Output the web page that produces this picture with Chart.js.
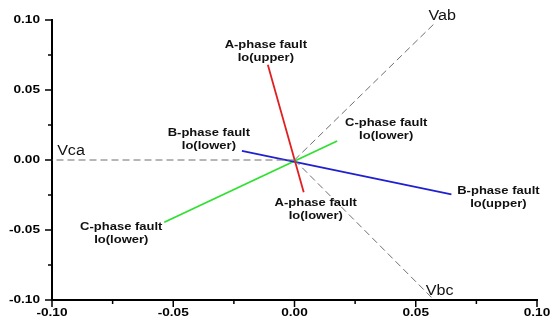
<!DOCTYPE html>
<html>
<head>
<meta charset="utf-8">
<script src="https://cdn.jsdelivr.net/npm/chart.js@4/dist/chart.umd.min.js"></script>
<style>
  html, body { margin: 0; padding: 0; background: #fff; }
  #wrap { width: 560px; height: 323px; }
</style>
</head>
<body>
<div id="wrap"><canvas id="chart"></canvas></div>
<script>
const tickValues = [-0.10, -0.05, 0.00, 0.05, 0.10];
const tickLabels = ['-0.10', '-0.05', '0.00', '0.05', '0.10'];
const minorTickValues = [-0.075, -0.025, 0.025, 0.075];

// line-voltage reference phasors, drawn from the origin to the tip
const refNames = ['Vab', 'Vbc', 'Vca'];
const refTipX = [0.058, 0.057, -0.10];
const refTipY = [0.098, -0.099, 0.0];

// zero-sequence current Io for each fault, one segment through the origin
const faultNames = ['A-phase fault', 'B-phase fault', 'C-phase fault'];
const faultStartX = [-0.011, -0.0217, -0.0537];
const faultStartY = [0.068, 0.0066, -0.0445];
const faultEndX = [0.0038, 0.0647, 0.0176];
const faultEndY = [-0.023, -0.0245, 0.0136];
const faultStartLabels = ['Io(upper)', 'Io(lower)', 'Io(lower)'];
const faultEndLabels = ['Io(lower)', 'Io(upper)', 'Io(lower)'];

const faultColors = ['#e02020', '#2020d0', '#30e030'];
// label offsets in pixels from the segment ends: [dx, dy]
const startLabelOffsets = [[-2, -20], [-33, -18], [-43, 5]];
const endLabelOffsets = [[12, 11], [47, -3], [49, -18]];
const refLabelOffsets = [[7, -7], [7, -7], [19, -9]];

const datasets = [];
refNames.forEach((name, i) => {
  datasets.push({
    label: name,
    data: [{ x: 0, y: 0 }, { x: refTipX[i], y: refTipY[i] }],
    showLine: true,
    borderColor: '#6e6e6e',
    borderWidth: 1,
    borderDash: [7, 4],
    pointRadius: 0,
  });
});
faultNames.forEach((name, i) => {
  datasets.push({
    label: name,
    data: [{ x: faultStartX[i], y: faultStartY[i] }, { x: faultEndX[i], y: faultEndY[i] }],
    showLine: true,
    borderColor: faultColors[i],
    borderWidth: 1.8,
    pointRadius: 0,
  });
});

function wideText(ctx, text, x, y, font, sx) {
  ctx.save();
  ctx.translate(x, y);
  ctx.scale(sx, 1);
  ctx.font = font;
  ctx.fillText(text, 0, 0);
  ctx.restore();
}

const labelFont = 'bold 10px "Liberation Sans", Arial, sans-serif';

const annotate = {
  id: 'annotate',
  afterDraw(chart) {
    const { ctx, scales: { x, y }, chartArea } = chart;
    ctx.save();
    ctx.strokeStyle = '#000';
    ctx.fillStyle = '#000';
    ctx.lineWidth = 1.5;

    // major and minor ticks, outside the axes
    tickValues.forEach((v) => {
      const px = x.getPixelForValue(v);
      const py = y.getPixelForValue(v);
      ctx.beginPath();
      ctx.moveTo(px, chartArea.bottom);
      ctx.lineTo(px, chartArea.bottom + 7);
      ctx.moveTo(chartArea.left, py);
      ctx.lineTo(chartArea.left - 7, py);
      ctx.stroke();
    });
    minorTickValues.forEach((v) => {
      const px = x.getPixelForValue(v);
      const py = y.getPixelForValue(v);
      ctx.beginPath();
      ctx.moveTo(px, chartArea.bottom);
      ctx.lineTo(px, chartArea.bottom + 4);
      ctx.moveTo(chartArea.left, py);
      ctx.lineTo(chartArea.left - 4, py);
      ctx.stroke();
    });

    // tick labels
    const tickFont = 'bold 10.5px "Liberation Sans", Arial, sans-serif';
    ctx.textBaseline = 'middle';
    ctx.textAlign = 'right';
    tickValues.forEach((v, i) => {
      wideText(ctx, tickLabels[i], chartArea.left - 12, y.getPixelForValue(v), tickFont, 1.3);
    });
    ctx.textAlign = 'center';
    tickValues.forEach((v, i) => {
      wideText(ctx, tickLabels[i], x.getPixelForValue(v), chartArea.bottom + 13, tickFont, 1.3);
    });

    // reference phasor names
    ctx.fillStyle = '#111';
    refNames.forEach((name, i) => {
      const px = x.getPixelForValue(refTipX[i]) + refLabelOffsets[i][0];
      const py = y.getPixelForValue(refTipY[i]) + refLabelOffsets[i][1];
      wideText(ctx, name, px, py, '14px "Liberation Sans", Arial, sans-serif', 1.15);
    });

    // fault labels at each segment end
    faultNames.forEach((name, i) => {
      let px = x.getPixelForValue(faultStartX[i]) + startLabelOffsets[i][0];
      let py = y.getPixelForValue(faultStartY[i]) + startLabelOffsets[i][1];
      wideText(ctx, name, px, py, labelFont, 1.3);
      wideText(ctx, faultStartLabels[i], px, py + 13, labelFont, 1.3);

      px = x.getPixelForValue(faultEndX[i]) + endLabelOffsets[i][0];
      py = y.getPixelForValue(faultEndY[i]) + endLabelOffsets[i][1];
      wideText(ctx, name, px, py, labelFont, 1.3);
      wideText(ctx, faultEndLabels[i], px, py + 13, labelFont, 1.3);
    });
    ctx.restore();
  },
};

const axisOpts = {
  type: 'linear',
  min: -0.1,
  max: 0.1,
  ticks: { display: false, stepSize: 0.05 },
  grid: { drawOnChartArea: false, drawTicks: false },
  border: { display: true, color: '#000', width: 2 },
};

new Chart(document.getElementById('chart'), {
  type: 'scatter',
  data: { datasets },
  options: {
    responsive: true,
    maintainAspectRatio: false,
    animation: false,
    layout: { padding: { top: 20, right: 23, left: 0, bottom: 0 } },
    plugins: { legend: { display: false }, tooltip: { enabled: false } },
    scales: {
      x: { ...axisOpts, afterFit: (s) => { s.height = 23; } },
      y: { ...axisOpts, afterFit: (s) => { s.width = 52; } },
    },
  },
  plugins: [annotate],
});
</script>
</body>
</html>
